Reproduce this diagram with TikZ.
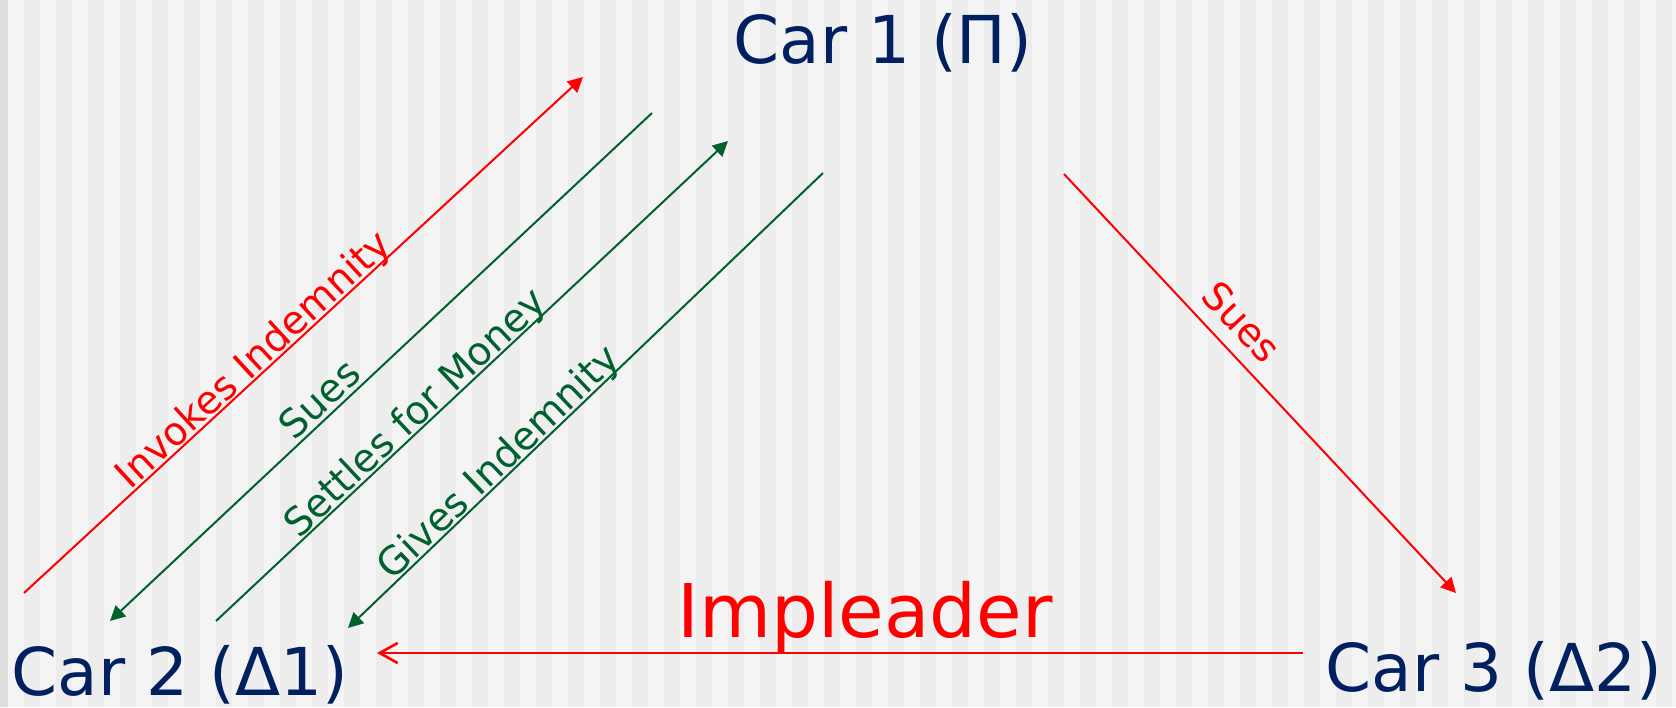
\documentclass[tikz,border=0pt]{standalone}
\usepackage{fontspec}
\setmainfont{DejaVu Sans}
\usetikzlibrary{arrows.meta}
\definecolor{navy}{HTML}{002060}
\definecolor{dkgreen}{HTML}{00602E}
\definecolor{stripelight}{HTML}{F4F4F4}
\definecolor{stripedark}{HTML}{EDEDED}
\definecolor{edgeband}{HTML}{DDDDDD}

\begin{document}
\begin{tikzpicture}[x=0.5pt,y=-0.5pt,
  car/.style={text=navy,font=\fontsize{33}{40}\selectfont,anchor=base,inner sep=0pt},
  lbl/.style={sloped,above,font=\fontsize{19.5}{23}\selectfont,text depth=0pt,inner sep=1pt},
  >={Triangle[length=7.5pt,width=7.5pt]}]
\useasboundingbox (0,0) rectangle (1676,707);
\clip (0,0) rectangle (1676,707);
% striped backdrop
\fill[stripedark] (0,0) rectangle (1676,707);
\fill[edgeband] (0,0) rectangle (8,707);
\foreach \x in {8,40,...,1672}
  \fill[stripelight] (\x,0) rectangle (\x+16,707);

\node[car] (car1) at (883,63) {Car 1 (Π)};
\node[car] (car2) at (180,695) {Car 2 (Δ1)};
\node[car] (car3) at (1494,691) {Car 3 (Δ2)};

\coordinate (inv1) at (24,593);
\coordinate (inv2) at (583,77);
\coordinate (sue1) at (110,621);
\coordinate (sue2) at (652,113);
\coordinate (set1) at (216,621);
\coordinate (set2) at (728,141);
\coordinate (giv1) at (348,628);
\coordinate (giv2) at (823,173);
\coordinate (rsue1) at (1064,174);
\coordinate (rsue2) at (1456,593);
\coordinate (imp1) at (1303,653);
\coordinate (imp2) at (377,653);

\draw[red,line width=1pt,->] (inv1) -- node[lbl,pos=0.43] {Invokes Indemnity} (inv2);
\draw[dkgreen,line width=1pt,<-] (sue1) -- node[lbl,pos=0.41,inner sep=2pt] {Sues} (sue2);
\draw[dkgreen,line width=1pt,->] (set1) -- node[lbl,pos=0.41] {Settles for Money} (set2);
\draw[dkgreen,line width=1pt,<-] (giv1) -- node[lbl,pos=0.34] {Gives Indemnity} (giv2);
\draw[red,line width=1pt,->] (rsue1) -- node[lbl,pos=0.40,inner sep=7pt] {Sues} (rsue2);

\draw[red,line width=1.3pt,-{Straight Barb[length=9pt,width=10pt]}] (imp1) -- (imp2);
\node[text=red,font=\fontsize{37}{44}\selectfont,anchor=base,inner sep=0pt] (impl) at (865,637) {Impleader};
\end{tikzpicture}
\end{document}
